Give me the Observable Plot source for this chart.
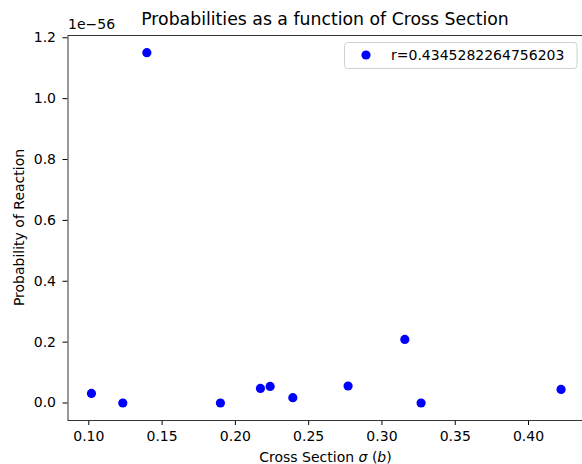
<!DOCTYPE html>
<html><head><meta charset="utf-8">
<script src="https://cdn.jsdelivr.net/npm/d3@7"></script>
<script src="https://cdn.jsdelivr.net/npm/@observablehq/plot@0.6"></script>
<style>
html,body{margin:0;padding:0;overflow:hidden;background:#fff;}
#wrap{position:relative;width:582px;height:464px;overflow:hidden;}
#wrap svg{position:absolute;left:0;top:0;max-width:none !important;width:600px !important;height:464px !important;}
</style></head><body><div id="wrap"></div>
<script>
// Cross sections (b)
const crossSections = [0.1018, 0.1232, 0.1396, 0.1898, 0.2171, 0.2237, 0.2392, 0.2769, 0.3156, 0.3267, 0.4222];
// Probability of reaction, in units of 1e-56
const probabilities = [0.0315, 0.0, 1.151, 0.0, 0.048, 0.0545, 0.0174, 0.0558, 0.2088, 0.0, 0.0446];
const xTicks = [0.10, 0.15, 0.20, 0.25, 0.30, 0.35, 0.40];
const yTicks = [0.0, 0.2, 0.4, 0.6, 0.8, 1.0, 1.2];
const titleText = "Probabilities as a function of Cross Section";
const yLabel = "Probability of Reaction";
const offsetText = "1e\u221256";
const legendLabel = "r=0.4345282264756203";

const data = crossSections.map((x, i) => ({x, y: probabilities[i]}));
const font = "'DejaVu Sans', sans-serif";

const W = 600, H = 464;
const chart = Plot.plot({
  width: W, height: H,
  marginLeft: 67.5, marginRight: 16, marginTop: 35, marginBottom: 44,
  style: {fontFamily: font, fontSize: "14px", background: "#fff", color: "#000", maxWidth: "none"},
  x: {domain: [0.0858, 0.4382]},
  y: {domain: [-0.0575, 1.2075]},
  marks: [
    Plot.axisX({ticks: xTicks, tickFormat: d3.format(".2f"), tickSize: 5, tickPadding: 6, fontSize: 14, label: null}),
    Plot.axisY({ticks: yTicks, tickFormat: d3.format(".1f"), tickSize: 5, tickPadding: 7, fontSize: 14, label: null}),
    Plot.frame({stroke: "#333", strokeWidth: 1}),
    Plot.dot(data, {x: "x", y: "y", r: 4.6, fill: "#0000ff", stroke: "none"})
  ]
});
document.getElementById("wrap").appendChild(chart);

const svg = d3.select(chart);
const g = svg.append("g").attr("font-family", font).attr("fill", "#000");
g.append("text").attr("x", 325).attr("y", 25).attr("text-anchor", "middle")
  .attr("font-size", 17.3).text(titleText);
g.append("text").attr("x", 68).attr("y", 29).attr("text-anchor", "start").attr("font-size", 14).text(offsetText);
g.append("text").attr("transform", "translate(24,227.5) rotate(-90)").attr("text-anchor", "middle")
  .attr("font-size", 14).text(yLabel);
const xl = g.append("text").attr("x", 325.5).attr("y", 462).attr("text-anchor", "middle").attr("font-size", 14);
xl.append("tspan").text("Cross Section ");
xl.append("tspan").attr("font-style", "italic").text("\u03c3");
xl.append("tspan").text(" (");
xl.append("tspan").attr("font-style", "italic").text("b");
xl.append("tspan").text(")");

// legend
const lg = g.append("g");
lg.append("rect").attr("x", 344.5).attr("y", 42.5).attr("width", 232.5).attr("height", 26).attr("rx", 3)
  .attr("fill", "#fff").attr("fill-opacity", 0.8).attr("stroke", "#d0d0d0");
lg.append("circle").attr("cx", 366).attr("cy", 55).attr("r", 4.6).attr("fill", "#0000ff");
lg.append("text").attr("x", 391).attr("y", 60).attr("text-anchor", "start").attr("font-size", 14).text(legendLabel);
</script></body></html>
